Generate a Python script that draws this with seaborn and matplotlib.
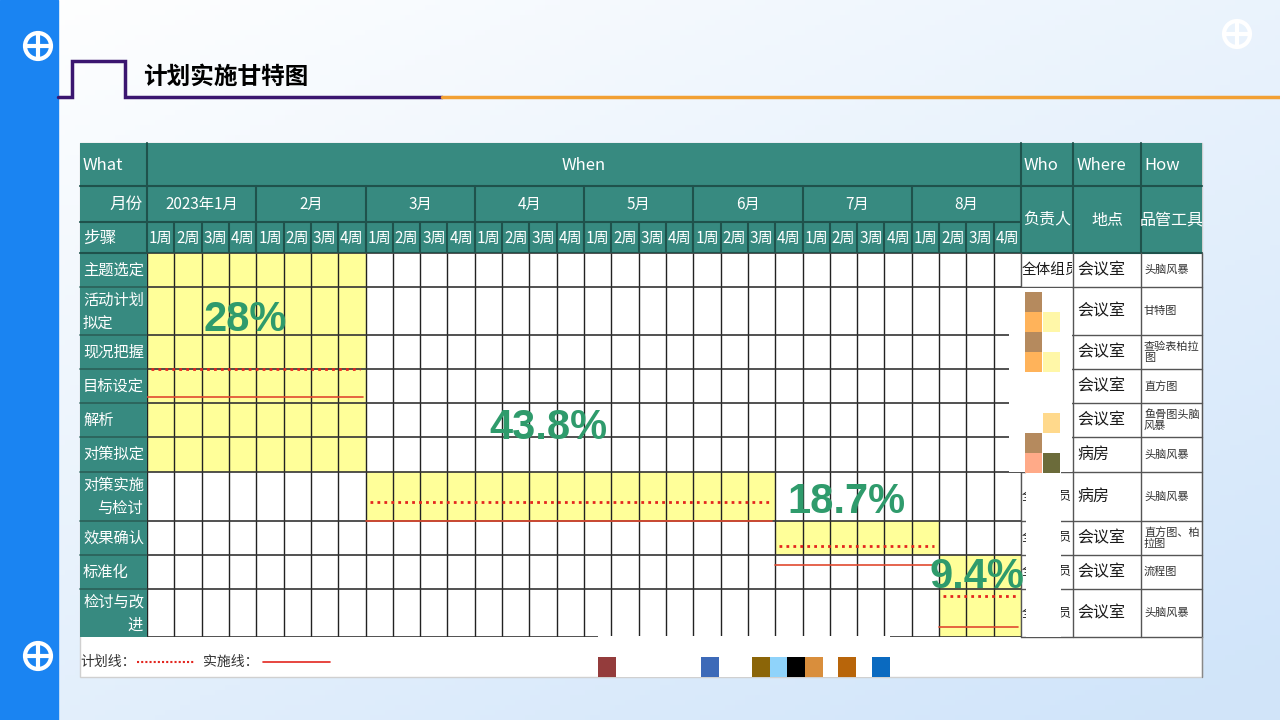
import numpy as np
import matplotlib
matplotlib.use("Agg")
import matplotlib.pyplot as plt
import seaborn as sns
from matplotlib.patches import Rectangle, Circle
from matplotlib.colors import ListedColormap
from matplotlib.transforms import Bbox, TransformedBbox

sns.set_theme(style="white")
plt.rcParams['font.family'] = ['Noto Sans CJK SC', 'DejaVu Sans']

# ---------------- data ----------------
title = "计划实施甘特图"
months = ["2023年1月", "2月", "3月", "4月", "5月", "6月", "7月", "8月"]
weeks = ["1周", "2周", "3周", "4周"]
steps = ["主题选定", "活动计划\n拟定", "现况把握", "目标设定", "解析", "对策拟定",
         "对策实施\n与检讨", "效果确认", "标准化", "检讨与改\n进"]
who = ["全体组员"] * 10
where = ["会议室", "会议室", "会议室", "会议室", "会议室", "病房", "病房",
         "会议室", "会议室", "会议室"]
how = ["头脑风暴", "甘特图", "查验表柏拉\n图", "直方图", "鱼骨图头脑\n风暴", "头脑风暴",
       "头脑风暴", "直方图、柏\n拉图", "流程图", "头脑风暴"]
phase_first_row = [0, 6, 7, 8]
phase_last_row = [6, 7, 8, 10]
phase_start = [0, 8, 23, 29]
phase_end = [8, 23, 29, 32]
phase_pct = ["28%", "43.8%", "18.7%", "9.4%"]

# ---------------- layout (pixels) ----------------
W, H = 1280, 720
TL, TR = 80, 1202
GX0, GX1 = 147, 1021
GY0 = 253
row_h = [34, 48, 34, 34, 34, 35, 49, 34, 34, 48]
row_edges = GY0 + np.concatenate([[0], np.cumsum(row_h)])
GY1 = row_edges[-1]
wk = (GX1 - GX0) / 32.0
mw = wk * 4
TEAL = "#378a80"
TEAL_D = "#1f524c"
YEL = "#ffff99"
RED = "#e3261f"
GREEN = "#2f9b6c"
second_line_right = [False, False, False, False, False, False, True, False, False, True]
who_visible = [True, False, False, False, False, False, True, True, True, True]

plan_y = [116, 249, 293, 343]       # offsets inside grid
act_y = [144, 268, 312, 374]
pct_pos = [(3.6, 67), (14.7, 175), (25.6, 249), (30.4, 324)]

fig = plt.figure(figsize=(12.8, 7.2), dpi=100)
ax = fig.add_axes([0, 0, 1, 1])
ax.set_xlim(0, W)
ax.set_ylim(H, 0)
ax.axis("off")

# background gradient
xx, yy = np.meshgrid(np.linspace(0, 1, 256), np.linspace(0, 1, 144))
t = np.clip(0.45 * xx + 0.6 * yy, 0, 1)[..., None]
c0 = np.array([1.0, 1.0, 1.0])
c1 = np.array([0.82, 0.898, 0.98])
ax.imshow(c0 * (1 - t) + c1 * t, extent=[0, W, H, 0], aspect="auto", zorder=0)

# left blue bar + icons
ax.add_patch(Rectangle((0, 0), 58, H, color="#1a84f2", zorder=1))
for cx, cy in [(38, 46), (38, 656), (1237, 34)]:
    ax.add_patch(Circle((cx, cy), 13, fill=False, ec="white", lw=3, zorder=2))
    ax.plot([cx - 13, cx + 13], [cy, cy], color="white", lw=3, zorder=2)
    ax.plot([cx, cx], [cy - 13, cy + 13], color="white", lw=3, zorder=2)

# title decoration
ax.plot([58, 72, 72, 125, 125, 442], [97, 97, 61, 61, 97, 97], color="#3b1670", lw=2.5,
        solid_joinstyle="miter", zorder=2)
ax.plot([442, W], [97, 97], color="#f2a033", lw=2.5, zorder=2)
ax.text(143, 77, title, fontsize=17, fontweight="bold", color="black", va="center", ha="left", zorder=3)

# table base
ax.add_patch(Rectangle((TL, 143), TR - TL, 677 - 143, fc="white", ec="#d0d0d0", lw=1, zorder=2))
ax.add_patch(Rectangle((TL, 143), TR - TL, GY0 - 143, fc=TEAL, ec="none", zorder=3))
ax.add_patch(Rectangle((TL, GY0), GX0 - TL, GY1 - GY0, fc=TEAL, ec="none", zorder=3))

# header lines
lk = dict(color=TEAL_D, lw=1.5, zorder=4)
ax.plot([TL, TR], [186, 186], **lk)
ax.plot([TL, GX1], [222, 222], **lk)
ax.plot([TL, TR], [GY0, GY0], **lk)
for xv in [GX0, GX1, 1073, 1141]:
    ax.plot([xv, xv], [143, GY0], **lk)
for i in range(1, 8):
    ax.plot([GX0 + i * mw] * 2, [186, GY0], **lk)
for j in range(1, 32):
    ax.plot([GX0 + j * wk] * 2, [222, GY0], **lk)
for y in row_edges[1:-1]:
    ax.plot([TL, GX0], [y, y], color="#2a5f58", lw=1.2, zorder=4)

hk = dict(color="white", va="center", zorder=5)
ax.text(83, 166, "What", fontsize=12, ha="left", fontweight="medium", **hk)
ax.text((GX0 + GX1) / 2, 166, "When", fontsize=12, ha="center", fontweight="medium", **hk)
ax.text(1024, 166, "Who", fontsize=12, ha="left", fontweight="medium", **hk)
ax.text(1077, 166, "Where", fontsize=12, ha="left", fontweight="medium", **hk)
ax.text(1144, 166, "How", fontsize=12, ha="left", fontweight="medium", **hk)
ax.text(143, 204, "月份", fontsize=12, ha="right", fontweight="medium", **hk)
ax.text(83, 238, "步骤", fontsize=12, ha="left", fontweight="medium", **hk)
for i, m in enumerate(months):
    ax.text(GX0 + (i + 0.5) * mw, 204, m, fontsize=11, ha="center", fontweight="medium", **hk)
clip_hdr = TransformedBbox(Bbox([[GX0, 222], [GX1 - 1, GY0]]), ax.transData)
for j in range(32):
    tt = ax.text(GX0 + j * wk + 2, 238, weeks[j % 4], fontsize=11, ha="left",
                 fontweight="medium", **hk)
    tt.set_clip_box(clip_hdr)
    tt.set_clip_on(True)
ax.text(1047, 220, "负责人", fontsize=11.5, ha="center", fontweight="medium", **hk)
ax.text(1107, 220, "地点", fontsize=11.5, ha="center", fontweight="medium", **hk)
ax.text(1172, 220, "品管工具", fontsize=11.5, ha="center", fontweight="medium", **hk)

# step labels
for r, s in enumerate(steps):
    y0, y1 = row_edges[r], row_edges[r + 1]
    ym = (y0 + y1) / 2
    if "\n" in s:
        a, b = s.split("\n")
        ax.text(83, ym - 11, a, fontsize=11, ha="left", fontweight="medium", **hk)
        if second_line_right[r]:
            ax.text(143, ym + 12, b, fontsize=11, ha="right", fontweight="medium", **hk)
        else:
            ax.text(83, ym + 12, b, fontsize=11, ha="left", fontweight="medium", **hk)
    else:
        ax.text(83, ym, s, fontsize=11, ha="left", fontweight="medium", **hk)

# who/where/how columns
gk = dict(color="#555555", lw=1, zorder=4)
for y in row_edges[1:]:
    ax.plot([GX1, TR], [y, y], **gk)
for xv in [GX1, 1073, 1141, TR]:
    ax.plot([xv, xv], [GY0, GY1], **gk)
ax.plot([TR, TR], [GY1, 677], color="#888888", lw=1, zorder=4)
for r in range(10):
    y0, y1 = row_edges[r], row_edges[r + 1]
    ym = (y0 + y1) / 2
    if who_visible[r]:
        fs = 10.5 if r == 0 else 9
        tw = ax.text(1022, ym, who[r], fontsize=fs, ha="left", va="center", color="#1a1a1a", zorder=5)
        tw.set_clip_box(TransformedBbox(Bbox([[GX1, y0], [1072, y1]]), ax.transData))
        tw.set_clip_on(True)
    ax.text(1077, ym, where[r], fontsize=11.5, ha="left", va="center", color="#1a1a1a", zorder=5)
    ax.text(1144, ym, how[r], fontsize=8, ha="left", va="center", color="#333333",
            linespacing=1.1, zorder=5)

# ---------------- gantt grid (seaborn heatmap) ----------------
hax = fig.add_axes([GX0 / W, 1 - GY1 / H, (GX1 - GX0) / W, (GY1 - GY0) / H])
mat = np.zeros((10, 32))
for r0, r1, s, e in zip(phase_first_row, phase_last_row, phase_start, phase_end):
    mat[r0:r1, s:e] = 1
fine = np.repeat(mat, row_h, axis=0)
sns.heatmap(fine, ax=hax, cmap=ListedColormap(["white", YEL]), vmin=0, vmax=1,
            cbar=False, xticklabels=False, yticklabels=False)
for sp in hax.spines.values():
    sp.set_visible(False)
hax.vlines(np.arange(0, 33), 0, GY1 - GY0, colors="#222222", lw=1)
hax.hlines(row_edges - GY0, 0, 32, colors="#333333", lw=1.2)
for s, e, py, ay in zip(phase_start, phase_end, plan_y, act_y):
    hax.plot([s + 0.15, e - 0.2], [py, py], color=RED, lw=2, ls=(0, (1, 1.5)), zorder=5)
    hax.plot([s, e - 0.1], [ay, ay], color="#e04a30", lw=1.2, zorder=5)
for (px, py), lab in zip(pct_pos, phase_pct):
    hax.text(px, py, lab, fontsize=30, fontweight="bold", color=GREEN, ha="center", va="center",
             family=["Liberation Sans", "DejaVu Sans"], clip_on=False, zorder=6)

# ---------------- overlay ----------------
oax = fig.add_axes([0, 0, 1, 1])
oax.set_xlim(0, W)
oax.set_ylim(H, 0)
oax.axis("off")
oax.patch.set_alpha(0)
oax.add_patch(Rectangle((1009, 288), 63, 472 - 288, fc="white", ec="none"))
oax.add_patch(Rectangle((1026, 472), 35, GY1 - 472, fc="white", ec="none"))
squares = [(1025, 292, "#b58a5e"), (1025, 312, "#ffb35a"), (1043, 312, "#fff7a8"),
           (1025, 332, "#b58a5e"), (1025, 352, "#ffb35a"), (1043, 352, "#fff7a8"),
           (1043, 413, "#ffd98c"), (1025, 433, "#b58a5e"), (1025, 453, "#ffaa88"),
           (1043, 453, "#6b6b3a")]
for sx, sy, sc in squares:
    oax.add_patch(Rectangle((sx, sy), 17, 20, fc=sc, ec="none"))
oax.add_patch(Rectangle((598, GY1 - 1), 292, 677 - GY1 + 1, fc="white", ec="none"))
bars = [(598, "#943c3c"), (701, "#3d6ab8"), (752, "#8b6508"), (770, "#8fd3fa"),
        (787, "#000000"), (805, "#d98e3c"), (838, "#b8650a"), (872, "#0a6ac0")]
for bx, bc in bars:
    oax.add_patch(Rectangle((bx, 657), 18, 20, fc=bc, ec="none"))

# footer legend
oax.text(80, 662, "计划线：", fontsize=10, color="#333333", ha="left", va="center")
oax.plot([137, 195], [662, 662], color=RED, lw=1.5, ls=(0, (1, 1)))
oax.text(203, 662, "实施线：", fontsize=10, color="#333333", ha="left", va="center")
oax.plot([263, 330], [662, 662], color=RED, lw=1.2)

fig.savefig("out.png", dpi=100)
